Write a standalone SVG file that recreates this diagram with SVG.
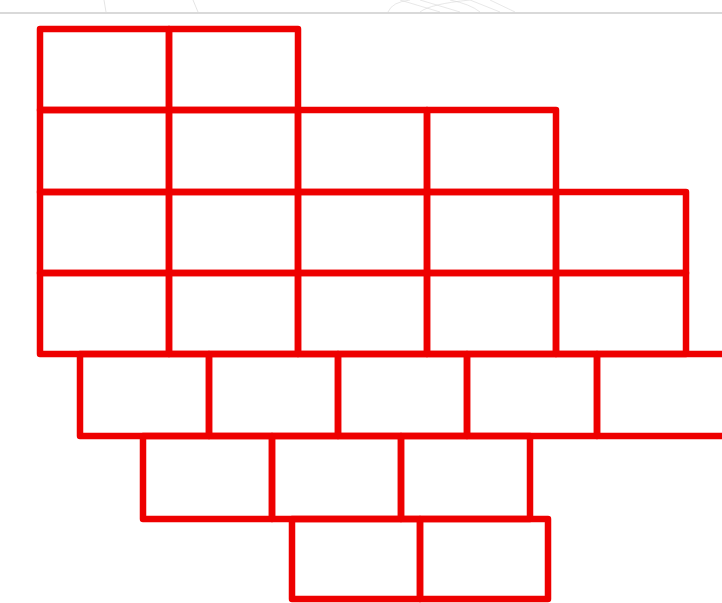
<svg xmlns="http://www.w3.org/2000/svg" width="722" height="603" viewBox="0 0 722 603">
<style>
.c{fill:none;stroke:#ee0000;stroke-width:6.5;stroke-linejoin:round}
.g{fill:none;stroke:#d8d8d8;stroke-width:1}
</style>
<rect width="722" height="603" fill="#ffffff"/>
<g id="background">
<path class="g" d="M104 0 L106 12 M193 0 L198 12" opacity="0.7"/>
<path class="g" d="M388 12 Q392 2 410 0 M420 12 Q430 4 470 0 M440 12 L400 0 M460 12 L420 0 M480 12 Q470 4 450 0 M500 12 L470 0 M515 12 L490 0" opacity="0.6"/>
<line x1="0" y1="13" x2="722" y2="13" stroke="#cccccc" stroke-width="1.5"/>
</g>
<g id="row1">
<rect id="r1c1" class="c" x="40" y="29" width="129" height="81"/>
<rect id="r1c2" class="c" x="169" y="29" width="129" height="81"/>
</g>
<g id="row2">
<rect id="r2c1" class="c" x="40" y="110" width="129" height="82"/>
<rect id="r2c2" class="c" x="169" y="110" width="129" height="82"/>
<rect id="r2c3" class="c" x="298" y="110" width="129" height="82"/>
<rect id="r2c4" class="c" x="427" y="110" width="129" height="82"/>
</g>
<g id="row3">
<rect id="r3c1" class="c" x="40" y="192" width="129" height="81"/>
<rect id="r3c2" class="c" x="169" y="192" width="129" height="81"/>
<rect id="r3c3" class="c" x="298" y="192" width="129" height="81"/>
<rect id="r3c4" class="c" x="427" y="192" width="129" height="81"/>
<rect id="r3c5" class="c" x="556" y="192" width="130" height="81"/>
</g>
<g id="row4">
<rect id="r4c1" class="c" x="40" y="273" width="129" height="81"/>
<rect id="r4c2" class="c" x="169" y="273" width="129" height="81"/>
<rect id="r4c3" class="c" x="298" y="273" width="129" height="81"/>
<rect id="r4c4" class="c" x="427" y="273" width="129" height="81"/>
<rect id="r4c5" class="c" x="556" y="273" width="130" height="81"/>
</g>
<g id="row5">
<rect id="r5c1" class="c" x="80" y="354" width="129" height="82"/>
<rect id="r5c2" class="c" x="209" y="354" width="129" height="82"/>
<rect id="r5c3" class="c" x="338" y="354" width="129" height="82"/>
<rect id="r5c4" class="c" x="467" y="354" width="130" height="82"/>
<rect id="r5c5" class="c" x="597" y="354" width="130" height="82"/>
</g>
<g id="row6">
<rect id="r6c1" class="c" x="143" y="436" width="129" height="83"/>
<rect id="r6c2" class="c" x="272" y="436" width="129" height="83"/>
<rect id="r6c3" class="c" x="401" y="436" width="129" height="83"/>
</g>
<g id="row7">
<rect id="r7c1" class="c" x="292" y="519" width="128" height="80"/>
<rect id="r7c2" class="c" x="420" y="519" width="128" height="80"/>
</g>
<g id="connectors"></g>
</svg>
